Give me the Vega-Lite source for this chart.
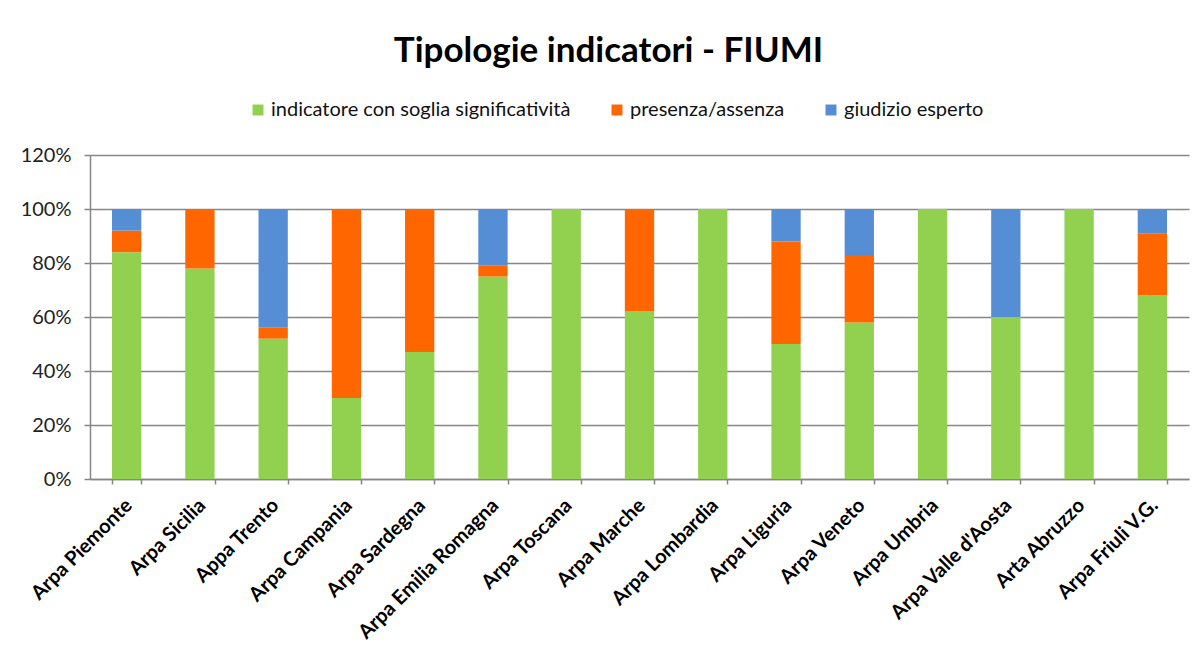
{
  "$schema": "https://vega.github.io/schema/vega-lite/v6.json",
  "width": 1099,
  "height": 324,
  "autosize": {"type": "none"},
  "padding": {"left": 90, "top": 155, "right": 11, "bottom": 172},
  "background": "white",
  "title": {
    "text": "Tipologie indicatori - FIUMI",
    "font": "Lato",
    "fontSize": 35,
    "fontWeight": "bold",
    "color": "#000000",
    "anchor": "middle",
    "frame": "group",
    "dx": -31,
    "offset": 31
  },
  "data": {
    "values": [
      {"ente": "Arpa Piemonte", "tipo": "indicatore con soglia significatività", "valore": 0.84},
      {"ente": "Arpa Piemonte", "tipo": "presenza/assenza", "valore": 0.08},
      {"ente": "Arpa Piemonte", "tipo": "giudizio esperto", "valore": 0.08},
      {"ente": "Arpa Sicilia", "tipo": "indicatore con soglia significatività", "valore": 0.78},
      {"ente": "Arpa Sicilia", "tipo": "presenza/assenza", "valore": 0.22},
      {"ente": "Arpa Sicilia", "tipo": "giudizio esperto", "valore": 0.0},
      {"ente": "Appa Trento", "tipo": "indicatore con soglia significatività", "valore": 0.52},
      {"ente": "Appa Trento", "tipo": "presenza/assenza", "valore": 0.04},
      {"ente": "Appa Trento", "tipo": "giudizio esperto", "valore": 0.44},
      {"ente": "Arpa Campania", "tipo": "indicatore con soglia significatività", "valore": 0.30},
      {"ente": "Arpa Campania", "tipo": "presenza/assenza", "valore": 0.70},
      {"ente": "Arpa Campania", "tipo": "giudizio esperto", "valore": 0.0},
      {"ente": "Arpa Sardegna", "tipo": "indicatore con soglia significatività", "valore": 0.47},
      {"ente": "Arpa Sardegna", "tipo": "presenza/assenza", "valore": 0.53},
      {"ente": "Arpa Sardegna", "tipo": "giudizio esperto", "valore": 0.0},
      {"ente": "Arpa Emilia Romagna", "tipo": "indicatore con soglia significatività", "valore": 0.75},
      {"ente": "Arpa Emilia Romagna", "tipo": "presenza/assenza", "valore": 0.04},
      {"ente": "Arpa Emilia Romagna", "tipo": "giudizio esperto", "valore": 0.21},
      {"ente": "Arpa Toscana", "tipo": "indicatore con soglia significatività", "valore": 1.0},
      {"ente": "Arpa Toscana", "tipo": "presenza/assenza", "valore": 0.0},
      {"ente": "Arpa Toscana", "tipo": "giudizio esperto", "valore": 0.0},
      {"ente": "Arpa Marche", "tipo": "indicatore con soglia significatività", "valore": 0.62},
      {"ente": "Arpa Marche", "tipo": "presenza/assenza", "valore": 0.38},
      {"ente": "Arpa Marche", "tipo": "giudizio esperto", "valore": 0.0},
      {"ente": "Arpa Lombardia", "tipo": "indicatore con soglia significatività", "valore": 1.0},
      {"ente": "Arpa Lombardia", "tipo": "presenza/assenza", "valore": 0.0},
      {"ente": "Arpa Lombardia", "tipo": "giudizio esperto", "valore": 0.0},
      {"ente": "Arpa Liguria", "tipo": "indicatore con soglia significatività", "valore": 0.50},
      {"ente": "Arpa Liguria", "tipo": "presenza/assenza", "valore": 0.38},
      {"ente": "Arpa Liguria", "tipo": "giudizio esperto", "valore": 0.12},
      {"ente": "Arpa Veneto", "tipo": "indicatore con soglia significatività", "valore": 0.58},
      {"ente": "Arpa Veneto", "tipo": "presenza/assenza", "valore": 0.25},
      {"ente": "Arpa Veneto", "tipo": "giudizio esperto", "valore": 0.17},
      {"ente": "Arpa Umbria", "tipo": "indicatore con soglia significatività", "valore": 1.0},
      {"ente": "Arpa Umbria", "tipo": "presenza/assenza", "valore": 0.0},
      {"ente": "Arpa Umbria", "tipo": "giudizio esperto", "valore": 0.0},
      {"ente": "Arpa Valle d'Aosta", "tipo": "indicatore con soglia significatività", "valore": 0.60},
      {"ente": "Arpa Valle d'Aosta", "tipo": "presenza/assenza", "valore": 0.0},
      {"ente": "Arpa Valle d'Aosta", "tipo": "giudizio esperto", "valore": 0.40},
      {"ente": "Arta Abruzzo", "tipo": "indicatore con soglia significatività", "valore": 1.0},
      {"ente": "Arta Abruzzo", "tipo": "presenza/assenza", "valore": 0.0},
      {"ente": "Arta Abruzzo", "tipo": "giudizio esperto", "valore": 0.0},
      {"ente": "Arpa Friuli V.G.", "tipo": "indicatore con soglia significatività", "valore": 0.68},
      {"ente": "Arpa Friuli V.G.", "tipo": "presenza/assenza", "valore": 0.23},
      {"ente": "Arpa Friuli V.G.", "tipo": "giudizio esperto", "valore": 0.09}
    ]
  },
  "transform": [
    {"calculate": "indexof(['indicatore con soglia significatività', 'presenza/assenza', 'giudizio esperto'], datum.tipo)", "as": "ordine"}
  ],
  "mark": {"type": "bar"},
  "encoding": {
    "x": {
      "field": "ente",
      "type": "nominal",
      "sort": null,
      "scale": {"paddingInner": 0.6, "paddingOuter": 0.3},
      "axis": {
        "title": null,
        "labelAngle": -45,
        "labelAlign": "right",
        "labelBaseline": "middle",
        "labelFont": "Lato",
        "labelFontSize": 20,
        "labelFontWeight": "bold",
        "labelColor": "#000000",
        "labelPadding": 18,
        "labelOffset": 2,
        "tickBand": "extent",
        "tickColor": "#868686",
        "tickSize": 5,
        "tickWidth": 1.5,
        "domainColor": "#868686",
        "domainWidth": 1.5,
        "grid": false,
        "labelLimit": 300
      }
    },
    "y": {
      "field": "valore",
      "type": "quantitative",
      "stack": "zero",
      "scale": {"domain": [0, 1.2], "nice": false},
      "axis": {
        "title": null,
        "values": [0, 0.2, 0.4, 0.6, 0.8, 1.0, 1.2],
        "format": ".0%",
        "labelFont": "Lato",
        "labelFontSize": 20,
        "labelColor": "#222222",
        "labelPadding": 13,
        "tickColor": "#868686",
        "tickSize": 6,
        "tickWidth": 1.5,
        "domainColor": "#868686",
        "domainWidth": 1.5,
        "grid": true,
        "gridColor": "#868686",
        "gridWidth": 1.5
      }
    },
    "color": {
      "field": "tipo",
      "type": "nominal",
      "scale": {
        "domain": ["indicatore con soglia significatività", "presenza/assenza", "giudizio esperto"],
        "range": ["#92D050", "#FF6600", "#558ED5"]
      },
      "legend": {
        "title": null,
        "orient": "none",
        "direction": "horizontal",
        "legendX": 158,
        "legendY": -55,
        "symbolType": "square",
        "symbolSize": 120,
        "symbolStrokeWidth": 0,
        "labelFont": "Lato",
        "labelFontSize": 20,
        "labelColor": "#111111",
        "labelOffset": 3,
        "columnPadding": 36,
        "labelLimit": 400
      }
    },
    "order": {"field": "ordine", "type": "quantitative", "sort": "ascending"}
  },
  "config": {
    "view": {"stroke": null}
  }
}
